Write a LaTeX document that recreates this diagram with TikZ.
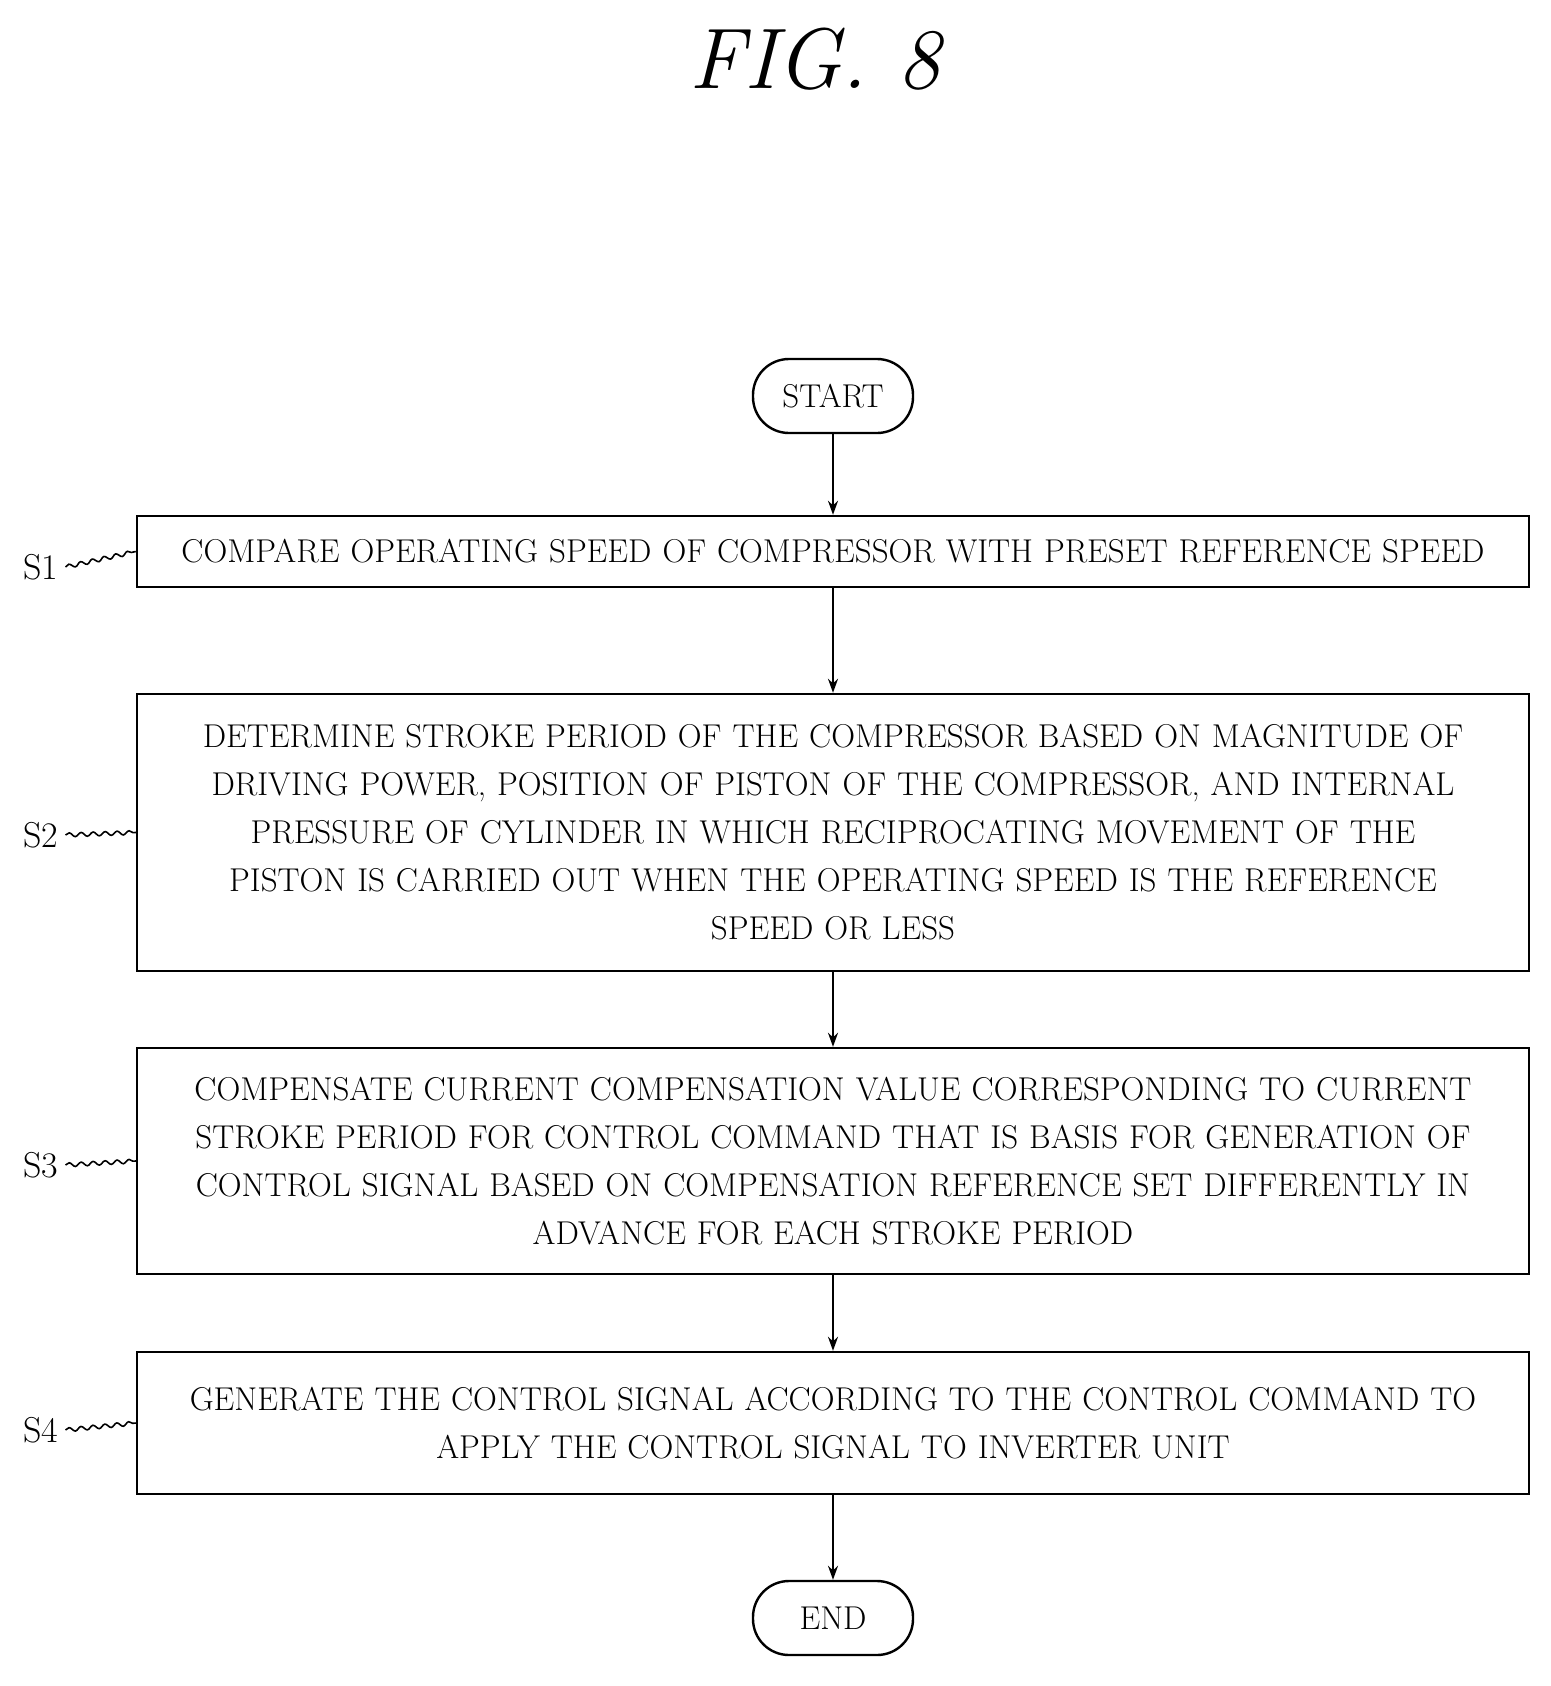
\documentclass[tikz,border=0pt]{standalone}
\usepackage{tikz}
\usetikzlibrary{positioning, arrows.meta, decorations.pathmorphing}

\tikzset{
  procbox/.style={draw, line width=1.2pt, minimum width=696pt, text width=684pt, align=center, font=\fontsize{16.5}{24}\selectfont, inner sep=0pt},
  term/.style={draw, line width=1.2pt, rounded corners=18pt, minimum width=80pt, minimum height=37pt, font=\fontsize{16.5}{20}\selectfont},
  lbl/.style={font=\fontsize{18}{20}\selectfont},
  flow/.style={-{Stealth[length=7pt,width=5pt]}, line width=1pt},
  lead/.style={decorate, decoration={snake, amplitude=1pt, segment length=6pt}, line width=0.8pt}
}

\begin{document}
\begin{tikzpicture}[x=0.5pt, y=-0.5pt]
  \useasboundingbox (0,0) rectangle (1551,1686);
  \node[font=\fontsize{43}{48}\selectfont\itshape] (title) at (815,59) {FIG. 8};

  \node[term] (start) at (833,396) {START};
  \node[procbox, minimum height=35.5pt] (s1) at (833,551.5) {COMPARE OPERATING SPEED OF COMPRESSOR WITH PRESET REFERENCE SPEED};
  \node[procbox, minimum height=138.5pt] (s2) at (833,832.5) {DETERMINE STROKE PERIOD OF THE COMPRESSOR BASED ON MAGNITUDE OF\\ DRIVING POWER, POSITION OF PISTON OF THE COMPRESSOR, AND INTERNAL\\ PRESSURE OF CYLINDER IN WHICH RECIPROCATING MOVEMENT OF THE\\ PISTON IS CARRIED OUT WHEN THE OPERATING SPEED IS THE REFERENCE\\ SPEED OR LESS};
  \node[procbox, minimum height=113pt] (s3) at (833,1161) {COMPENSATE CURRENT COMPENSATION VALUE CORRESPONDING TO CURRENT\\ STROKE PERIOD FOR CONTROL COMMAND THAT IS BASIS FOR GENERATION OF\\ CONTROL SIGNAL BASED ON COMPENSATION REFERENCE SET DIFFERENTLY IN\\ ADVANCE FOR EACH STROKE PERIOD};
  \node[procbox, minimum height=71pt] (s4) at (833,1423) {GENERATE THE CONTROL SIGNAL ACCORDING TO THE CONTROL COMMAND TO\\ APPLY THE CONTROL SIGNAL TO INVERTER UNIT};
  \node[term] (end) at (833,1618) {END};

  % step labels
  \node[lbl] (l1) at (41,567) {S1};
  \node[lbl] (l2) at (41,835) {S2};
  \node[lbl] (l3) at (41,1165) {S3};
  \node[lbl] (l4) at (41,1430) {S4};
  \draw[lead] (l1.east) -- (s1.west);
  \draw[lead] (l2.east) -- (s2.west);
  \draw[lead] (l3.east) -- (s3.west);
  \draw[lead] (l4.east) -- (s4.west);

  \draw[flow] (start) -- (s1);
  \draw[flow] (s1) -- (s2);
  \draw[flow] (s2) -- (s3);
  \draw[flow] (s3) -- (s4);
  \draw[flow] (s4) -- (end);
\end{tikzpicture}
\end{document}
